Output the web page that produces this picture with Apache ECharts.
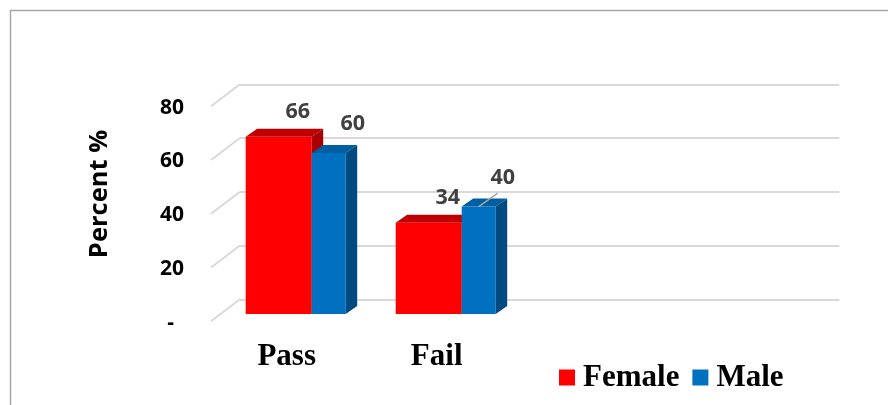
<!DOCTYPE html>
<html>
<head>
<meta charset="utf-8">
<script src="https://cdn.jsdelivr.net/npm/echarts@6/dist/echarts.min.js"></script>
<style>
  html, body { margin: 0; padding: 0; background: #fff; }
  #chart { width: 888px; height: 405px; }
</style>
</head>
<body>
<div id="chart"></div>
<script>
// Pass / fail rates by gender, in percent
const categories = ['Pass', 'Fail'];
const femaleValues = [66, 34];
const maleValues = [60, 40];
const yTicks = [0, 20, 40, 60, 80];
const seriesNames = ['Female', 'Male'];

const SANS = '"Open Sans"';
const DEPTH_X = 11.5;
const DEPTH_Y = -8;

// Draws one 3-D column: front face, top face and right side face plus its value label
function columnRenderer(cfg) {
  return function (params, api) {
    const cat = api.value(0);
    const v = api.value(1);
    const top = api.coord([cat, v]);
    const base = api.coord([cat, 0]);
    const cx = top[0];
    const x0 = cx + cfg.from;
    const x1 = cx + cfg.to;
    const yt = top[1];
    const yb = base[1];
    const children = [
      { type: 'rect', shape: { x: x0, y: yt, width: x1 - x0, height: yb - yt },
        style: { fill: cfg.front } },
      { type: 'polygon', shape: { points: [[x0, yt], [x0 + DEPTH_X, yt + DEPTH_Y], [x1 + DEPTH_X, yt + DEPTH_Y], [x1, yt]] },
        style: { fill: cfg.top } },
      { type: 'polygon', shape: { points: [[x1, yt], [x1 + DEPTH_X, yt + DEPTH_Y], [x1 + DEPTH_X, yb + DEPTH_Y], [x1, yb]] },
        style: { fill: cfg.side } }
    ];
    const fc = (x0 + x1) / 2;
    if (cfg.leader && cfg.leader(params.dataIndex)) {
      children.push({ type: 'line', shape: { x1: fc, y1: yt, x2: fc + 19, y2: yt - 13.5 },
        style: { stroke: '#a6a6a6', lineWidth: 1.5 } });
    }
    children.push({
      type: 'text',
      style: {
        text: String(v), x: fc + cfg.labelDx, y: yt + cfg.labelDy,
        fill: '#404040', font: 'bold 21.5px ' + SANS, align: 'center', verticalAlign: 'middle'
      }
    });
    return { type: 'group', children: children };
  };
}

const femaleData = femaleValues.map((v, i) => [i, v]);
const maleData = maleValues.map((v, i) => [i, v]);

const chart = echarts.init(document.getElementById('chart'));
chart.setOption({
  animation: false,
  backgroundColor: '#ffffff',
  grid: [
    // columns
    { left: 220.7, width: 300, top: 99.2, bottom: 91 },
    // back wall with gridlines
    { left: 240, right: 48.7, top: 84.3, bottom: 105.7 },
    // front edge carrying the tick labels
    { left: 192, width: 10, top: 107.6, bottom: 82.3 }
  ],
  xAxis: [
    { gridIndex: 0, type: 'category', data: categories,
      axisLine: { show: false }, axisTick: { show: false },
      axisLabel: { color: '#000', fontFamily: 'Liberation Serif', fontWeight: 'bold', fontSize: 31,
        margin: 27, padding: [0, 18, 0, 0] } },
    { gridIndex: 1, type: 'value', min: 0, max: 1, show: false },
    { gridIndex: 2, type: 'value', min: 0, max: 1, show: false }
  ],
  yAxis: [
    { gridIndex: 0, type: 'value', min: 0, max: 80, interval: 20, show: false },
    { gridIndex: 1, type: 'value', min: 0, max: 80, interval: 20,
      axisLine: { show: false }, axisTick: { show: false }, axisLabel: { show: false },
      splitLine: { show: true, lineStyle: { color: '#d9d9d9', width: 2 } } },
    { gridIndex: 2, type: 'value', min: 0, max: 80, interval: 20,
      axisLine: { show: false }, axisTick: { show: false }, splitLine: { show: false },
      axisLabel: {
        margin: 8, color: '#000', fontFamily: SANS, fontWeight: 'bold', fontSize: 21,
        formatter: v => (v === 0 ? '{d|-}' : String(v)),
        rich: { d: { fontFamily: SANS, fontWeight: 'bold', fontSize: 21, color: '#000', padding: [0, 10, 0, 0] } }
      } }
  ],
  legend: {
    left: 559, top: 362, padding: 0,
    itemWidth: 16, itemHeight: 16, itemGap: 13, icon: 'rect',
    data: seriesNames,
    textStyle: { color: '#000', fontFamily: 'Liberation Serif', fontWeight: 'bold', fontSize: 31, padding: [0, 0, 0, 3] }
  },
  graphic: [
    { type: 'rect', left: 8, top: 8, shape: { x: 0, y: 0, width: 900, height: 420 }, silent: true,
      style: { fill: 'none', stroke: '#a6a6a6', lineWidth: 1.5 }, z: 0 },
    { type: 'text', x: 100, y: 194, rotation: Math.PI / 2,
      style: { text: 'Percent %', font: 'bold 25.5px ' + SANS, fill: '#000', align: 'center', verticalAlign: 'middle' } }
  ],
  series: [
    {
      type: 'custom', name: 'wall', xAxisIndex: 1, yAxisIndex: 1, silent: true,
      data: yTicks.map(v => [0, v]),
      renderItem: function (params, api) {
        const p = api.coord([api.value(0), api.value(1)]);
        return { type: 'line', shape: { x1: p[0], y1: p[1], x2: p[0] - 29, y2: p[1] + 22 },
          style: { stroke: '#d9d9d9', lineWidth: 2 } };
      }
    },
    {
      type: 'custom', name: 'Female', xAxisIndex: 0, yAxisIndex: 0,
      itemStyle: { color: '#ff0000' },
      data: femaleData,
      renderItem: columnRenderer({ from: -50, to: 16, front: '#ff0000', top: '#c00000', side: '#a80000',
        labelDx: 19, labelDy: -25 })
    },
    {
      type: 'custom', name: 'Male', xAxisIndex: 0, yAxisIndex: 0,
      itemStyle: { color: '#0070c0' },
      data: maleData,
      renderItem: columnRenderer({ from: 16, to: 50, front: '#0070c0', top: '#005ea3', side: '#004a82',
        labelDx: 24, labelDy: -29, leader: i => i === 1 })
    }
  ]
});
</script>
</body>
</html>
